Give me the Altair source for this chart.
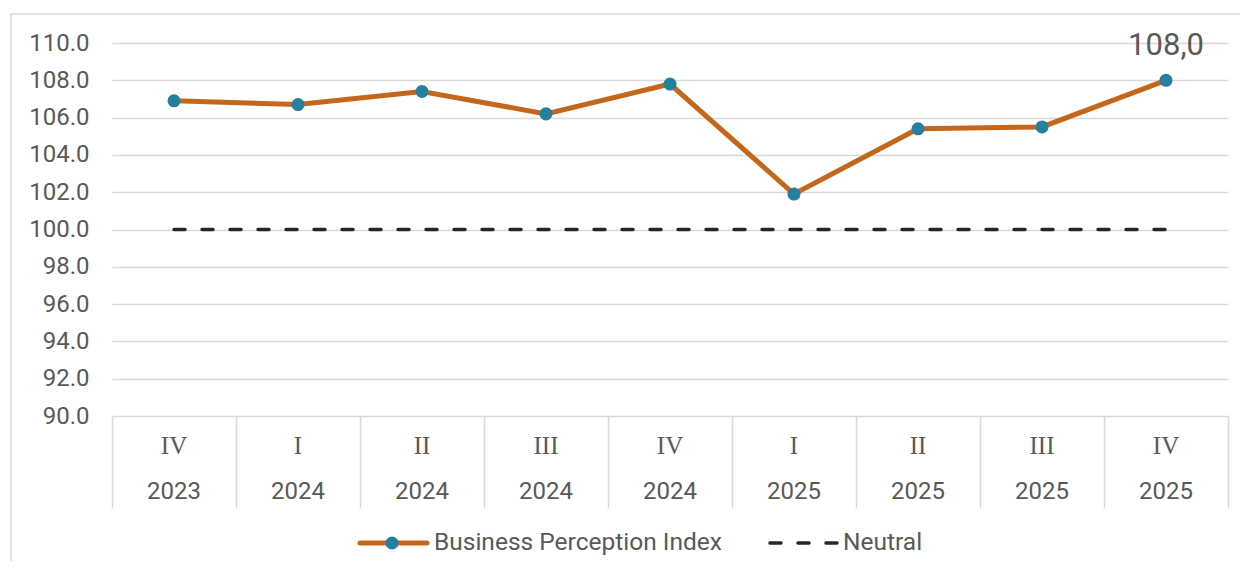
import altair as alt
import pandas as pd

quarters = ["IV", "I", "II", "III", "IV", "I", "II", "III", "IV"]
years = ["2023", "2024", "2024", "2024", "2024", "2025", "2025", "2025", "2025"]
bpi = [106.9, 106.7, 107.4, 106.2, 107.8, 101.9, 105.4, 105.5, 108.0]
neutral = [100.0] * 9
y_ticks = [90, 92, 94, 96, 98, 100, 102, 104, 106, 108, 110]

df = pd.DataFrame({
    "idx": list(range(len(quarters))),
    "quarter": quarters,
    "year": years,
    "bpi": bpi,
    "neutral": neutral,
})
df["label"] = df["bpi"].map(lambda v: f"{v:.1f}".replace(".", ","))
bounds = [i - 0.5 for i in range(len(quarters) + 1)]

W, H = 1116, 373
TXT = "#595959"
GRID = "#d9d9d9"
LINE = "#C4671A"
DOT = "#23809E"
FONT = "Roboto"

xscale = alt.Scale(domain=[-0.5, len(quarters) - 0.5], nice=False, zero=False)
yscale = alt.Scale(domain=[90, 110], nice=False, zero=False)
xaxis = alt.Axis(values=bounds, labels=False, ticks=True, tickSize=92, tickColor=GRID,
                 tickWidth=1.5, domain=False, grid=False, title=None)
yaxis = alt.Axis(values=y_ticks, format=".1f", grid=True, gridColor=GRID, gridWidth=1.5,
                 domain=False, ticks=False, labelFontSize=24, labelColor=TXT, labelFont=FONT,
                 labelPadding=23, title=None)

base = alt.Chart(df)
X = alt.X("idx:Q", scale=xscale, axis=xaxis)
Y_b = alt.Y("bpi:Q", scale=yscale, axis=yaxis)

one = alt.Data(values=[{}])
frame_top = alt.Chart(one).mark_rule(color=GRID, strokeWidth=1.5).encode(
    x=alt.value(-101), x2=alt.value(1400), y=alt.value(-29))
frame_left = alt.Chart(one).mark_rule(color=GRID, strokeWidth=1.5).encode(
    x=alt.value(-101), y=alt.value(-29), y2=alt.value(700))

neutral_line = base.mark_line(color="#262626", strokeWidth=3.5, strokeDash=[11, 17],
                              strokeCap="round").encode(
    x=X, y=alt.Y("neutral:Q", scale=yscale, axis=yaxis))

bpi_line = base.mark_line(color=LINE, strokeWidth=5).encode(x=X, y=Y_b)
bpi_pts = base.mark_circle(color=DOT, size=170, opacity=1).encode(x=X, y=Y_b)

last = base.transform_filter(alt.datum.idx == len(quarters) - 1).mark_text(
    font=FONT, fontSize=31, color=TXT, dy=-34, baseline="middle"
).encode(x=X, y=Y_b, text="label:N")

q_text = base.mark_text(font="Liberation Serif", fontSize=25, color=TXT, baseline="middle").encode(
    x=X, y=alt.value(H + 30), text="quarter:N")
y_text = base.mark_text(font=FONT, fontSize=24, color=TXT, baseline="middle").encode(
    x=X, y=alt.value(H + 76), text="year:N")

leg_line = alt.Chart(one).mark_rule(color=LINE, strokeWidth=5, strokeCap="round").encode(
    x=alt.value(248), x2=alt.value(315), y=alt.value(H + 127))
leg_dot = alt.Chart(one).mark_circle(color=DOT, size=170, opacity=1).encode(
    x=alt.value(280), y=alt.value(H + 127))
leg_txt1 = alt.Chart(one).mark_text(text="Business Perception Index", font=FONT, fontSize=24.5,
                                    color=TXT, align="left", baseline="middle").encode(
    x=alt.value(322), y=alt.value(H + 127))
leg_dash = alt.Chart(one).mark_rule(color="#262626", strokeWidth=3.5, strokeDash=[11, 17],
                                    strokeCap="round").encode(
    x=alt.value(658), x2=alt.value(726), y=alt.value(H + 127))
leg_txt2 = alt.Chart(one).mark_text(text="Neutral", font=FONT, fontSize=24.5, color=TXT,
                                    align="left", baseline="middle").encode(
    x=alt.value(731), y=alt.value(H + 127))

chart = alt.layer(
    frame_top, frame_left, neutral_line, bpi_line, bpi_pts, last, q_text, y_text,
    leg_line, leg_dot, leg_txt1, leg_dash, leg_txt2
).properties(
    width=W, height=H,
    autosize=alt.AutoSizeParams(type="none"),
    padding={"left": 104, "top": 35, "right": 12, "bottom": 145},
).configure_view(strokeWidth=0)

chart.save("out.html", embed_options={"renderer": "svg", "actions": False})
